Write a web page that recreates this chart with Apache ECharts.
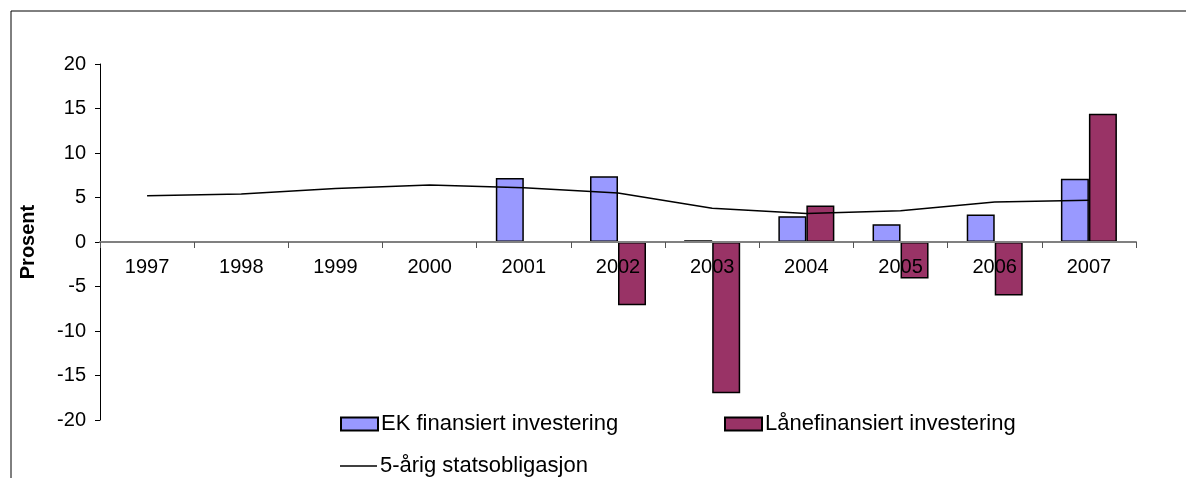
<!DOCTYPE html>
<html>
	<head>
		<meta charset="UTF-8">
		<title></title>
		<script type="text/javascript" src="https://cdn.jsdelivr.net/npm/echarts@6/dist/echarts.min.js"></script>
		<style>
			html, body { margin: 0; padding: 0; background: #fff; }
		</style>
	</head>
	<body>
		<div id="main" style="width: 1186px;height: 478px;"></div>
		<script type="text/javascript">
			var years = ['1997', '1998', '1999', '2000', '2001', '2002', '2003', '2004', '2005', '2006', '2007'];
			var ekInvest = [null, null, null, null, 7.2, 7.4, 0.2, 2.9, 2.0, 3.1, 7.1];
			var laanInvest = [null, null, null, null, null, -7.1, -17.0, 4.1, -4.1, -6.0, 14.4];
			var stat5 = [5.2, 5.4, 6.0, 6.4, 6.1, 5.5, 3.8, 3.2, 3.5, 4.5, 4.7];

			var font = 'Liberation Sans, Arial, sans-serif';
			var myChart = echarts.init(document.getElementById("main"));

			// x axis sits on y = 0: grid height 356, zero in the middle
			var gridTop = 64, gridBottom = 58;
			var zeroOffset = -(478 - gridTop - gridBottom) / 2;

			var option = {
				animation: false,
				backgroundColor: '#fff',
				graphic: [{
					type: 'rect',
					shape: { x: 11, y: 11, width: 1300, height: 600 },
					style: { fill: 'none', stroke: '#000', lineWidth: 1 },
					silent: true
				}],
				grid: { left: 100, right: 50, top: gridTop, bottom: gridBottom },
				legend: [{
					data: ['EK finansiert investering'],
					left: 335, top: 408,
					icon: 'rect',
					itemWidth: 37, itemHeight: 13, itemGap: 4,
					textStyle: { fontFamily: font, fontSize: 22, color: '#000', padding: [0, 0, 0, -2] }
				}, {
					data: ['Lånefinansiert investering'],
					left: 719, top: 408,
					icon: 'rect',
					itemWidth: 37, itemHeight: 13, itemGap: 4,
					textStyle: { fontFamily: font, fontSize: 22, color: '#000', padding: [0, 0, 0, -2] }
				}, {
					data: ['5-årig statsobligasjon'],
					left: 335, top: 450,
					icon: 'rect',
					itemWidth: 37, itemHeight: 1.5, itemGap: 4,
					itemStyle: { color: '#000', borderWidth: 0 },
					textStyle: { fontFamily: font, fontSize: 22, color: '#000', padding: [0, 0, 0, -2] }
				}],
				xAxis: {
					type: 'category',
					data: years,
					offset: zeroOffset,
					z: 5,
					axisLine: { onZero: false, lineStyle: { color: '#808080', width: 2 } },
					axisTick: { show: true, length: 6, lineStyle: { color: '#555' } },
					axisLabel: { margin: 15, fontFamily: font, fontSize: 20, color: '#000' }
				},
				yAxis: {
					type: 'value',
					min: -20, max: 20, interval: 5,
					name: 'Prosent',
					nameLocation: 'middle',
					nameGap: 62,
					nameTextStyle: { fontFamily: font, fontSize: 20, fontWeight: 'bold', color: '#000' },
					axisLine: { show: true, lineStyle: { color: '#000', width: 1 } },
					axisTick: { show: true, length: 5, lineStyle: { color: '#000' } },
					axisLabel: { margin: 14, fontFamily: font, fontSize: 20, color: '#000' },
					splitLine: { show: false }
				},
				series: [{
					name: 'EK finansiert investering',
					type: 'bar',
					data: ekInvest,
					barWidth: 28,
					barGap: '0%',
					itemStyle: { color: '#9999ff', borderColor: '#000', borderWidth: 1.5 }
				}, {
					name: 'Lånefinansiert investering',
					type: 'bar',
					data: laanInvest,
					barWidth: 28,
					barGap: '0%',
					itemStyle: { color: '#993366', borderColor: '#000', borderWidth: 1.5 }
				}, {
					name: '5-årig statsobligasjon',
					type: 'line',
					data: stat5,
					symbol: 'none',
					z: 6,
					lineStyle: { color: '#000', width: 1.5 },
					itemStyle: { color: '#000' }
				}]
			};
			myChart.setOption(option);
		</script>
	</body>
</html>
